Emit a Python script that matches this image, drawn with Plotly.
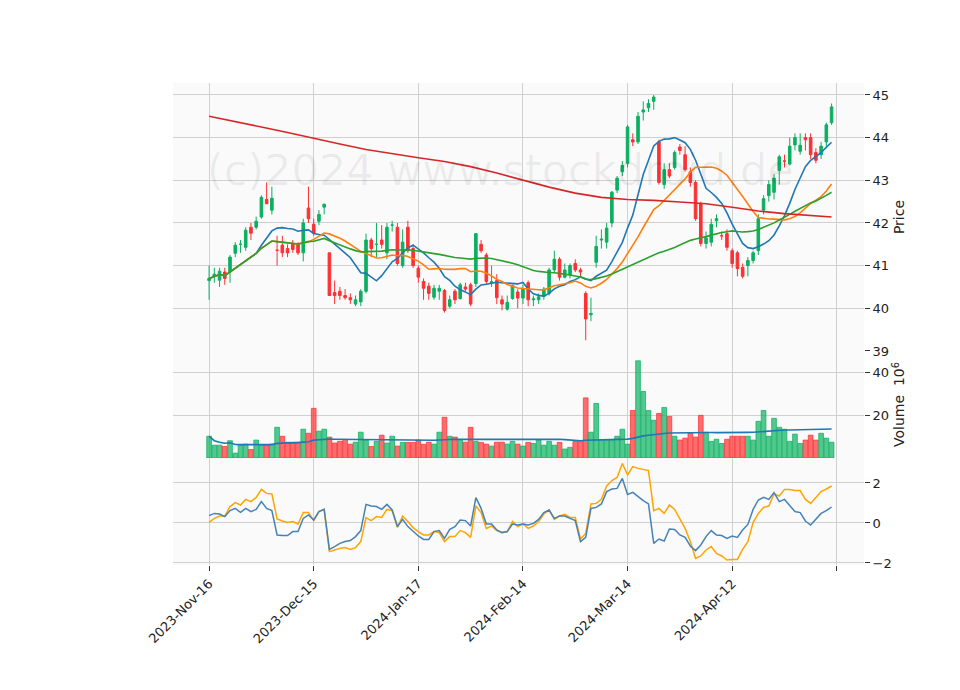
import plotly.graph_objects as go
import pandas as pd

open_ = [40.65,40.75,40.66,40.85,40.85,41.29,41.5,41.43,41.9,41.9,42.14,42.55,42.3,41.36,41.48,41.4,41.52,41.5,41.3,42.35,
         41.97,42.04,42.37,41.3,40.37,40.4,40.3,40.25,40.1,40.15,40.4,41.6,41.5,41.6,41.3,41.95,41.9,41.0,41.9,41.4,
         40.94,40.63,40.52,40.26,40.4,40.42,40.05,40.4,40.23,40.5,40.55,40.58,41.5,41.25,40.6,40.65,40.2,39.98,40.23,40.38,
         40.24,40.6,40.2,40.2,40.28,40.35,40.9,41.15,40.73,40.78,41.05,40.9,40.35,39.85,41.08,41.6,41.55,42.0,42.77,43.2,
         43.4,43.95,43.9,44.6,44.7,44.85,43.9,42.9,43.25,43.3,43.78,43.6,43.2,42.95,42.45,41.52,41.55,42.05,41.7,41.75,
         41.35,41.3,40.96,41.0,41.12,41.35,42.3,42.64,42.72,43.23,43.45,43.38,43.83,43.68,44.0,44.0,43.65,43.6,43.9,44.35]
close = [40.7,40.8,40.87,40.7,41.2,41.48,41.5,41.83,41.76,42.04,42.6,42.45,42.58,41.36,41.3,41.3,41.38,41.3,42.0,42.1,
         41.76,42.2,42.44,40.3,40.3,40.3,40.25,40.2,40.2,40.4,41.6,41.4,41.5,41.5,41.9,41.95,41.05,41.55,41.35,41.0,
         40.73,40.47,40.35,40.47,40.47,39.95,40.2,40.2,40.55,40.45,40.1,41.75,41.35,40.63,40.62,40.25,40.1,40.14,40.54,40.24,
         40.45,40.2,40.22,40.27,40.45,40.9,41.15,40.73,40.9,41.0,40.9,40.85,39.75,39.88,41.45,41.62,41.88,42.72,43.05,43.35,
         44.25,43.9,44.5,44.65,44.8,44.95,42.95,43.25,43.1,43.65,43.7,43.25,42.95,42.1,41.52,41.65,41.97,42.1,41.7,41.43,
         41.05,40.93,40.75,41.12,41.3,42.1,42.57,42.9,43.05,43.55,43.45,43.8,44.0,43.82,43.95,43.6,43.47,43.8,44.3,44.72]
high = [41.0,40.95,40.95,40.95,41.25,41.55,41.6,41.9,42.0,42.15,42.65,42.95,42.85,41.7,41.7,41.5,41.6,41.55,42.1,42.85,
        42.1,42.3,42.45,41.3,40.65,40.5,40.45,40.35,40.3,40.45,41.75,41.65,42.0,41.95,42.0,42.05,42.0,41.85,42.05,41.5,
        41.0,40.7,40.6,40.55,40.55,40.45,40.3,40.45,40.6,40.6,40.6,41.75,41.6,41.3,41.0,40.8,40.3,40.3,40.55,40.45,
        40.55,40.65,40.3,40.35,40.5,40.95,41.35,41.2,41.05,41.05,41.15,40.95,40.4,40.25,41.7,41.85,42.0,42.75,43.1,43.45,
        44.3,44.1,44.6,44.85,44.9,45.0,43.95,43.4,43.4,43.7,43.85,43.8,43.3,43.0,42.5,41.8,42.1,42.2,41.8,41.85,
        41.4,41.35,41.05,41.2,41.35,42.2,42.65,43.0,43.15,43.6,43.6,44.0,44.1,44.1,44.1,44.1,43.75,43.9,44.35,44.8]
low = [40.2,40.6,40.5,40.55,40.6,41.2,41.3,41.35,41.6,41.85,42.1,42.45,42.2,41.0,41.2,41.2,41.3,41.25,41.1,42.0,
       41.7,41.95,42.2,40.3,40.1,40.2,40.2,40.1,40.05,40.05,40.35,41.2,41.2,41.4,41.15,41.8,41.0,40.95,41.3,40.95,
       40.6,40.2,40.2,40.2,40.2,39.9,40.0,40.1,40.2,40.4,40.05,40.5,41.3,40.55,40.5,40.1,39.95,39.95,40.2,40.0,
       40.1,40.05,40.05,40.1,40.2,40.3,40.85,40.65,40.7,40.7,40.85,40.75,39.25,39.7,40.95,41.4,41.4,41.9,42.7,43.1,
       43.3,43.8,43.85,44.4,44.6,44.65,42.9,42.8,43.05,43.25,43.6,43.2,42.85,42.05,41.45,41.4,41.45,41.9,41.6,41.35,
       40.95,40.75,40.7,40.75,41.05,41.25,42.2,42.5,42.55,42.9,43.3,43.35,43.7,43.6,43.7,43.5,43.4,43.5,43.75,44.3]
volume = [10.2,6.0,6.0,5.4,8.1,2.3,6.0,6.5,4.0,8.4,6.0,6.0,6.5,14.4,10.2,7.4,7.4,7.0,13.5,11.6,
          23.3,12.6,13.5,9.8,7.0,7.8,8.7,6.5,7.4,12.1,8.4,5.4,7.8,10.7,7.0,10.2,5.6,7.3,7.3,7.3,
          8.4,6.4,7.4,6.5,12.1,19.1,10.2,9.8,8.7,7.4,14.4,7.8,7.3,6.5,5.6,7.4,7.4,6.5,7.8,6.5,
          5.6,7.3,6.8,8.4,6.0,7.8,6.0,7.3,4.2,5.0,7.8,7.8,28.2,12.1,25.6,8.4,8.4,8.4,10.2,13.5,
          6.5,22.3,45.6,31.2,22.3,17.7,20.9,23.7,19.5,10.2,8.4,9.3,11.6,9.8,20.0,12.1,7.8,8.8,6.8,8.8,
          10.2,10.2,10.2,10.2,8.4,17.2,22.3,10.2,18.6,14.4,13.5,7.8,11.2,6.8,8.4,10.7,8.4,11.6,9.3,7.4]
ind_blue = [0.37,0.48,0.45,0.32,0.62,0.73,0.53,0.73,0.57,0.68,1.07,0.73,0.62,-0.6,-0.63,-0.63,-0.43,-0.43,0.23,0.4,
            0.15,0.57,0.68,-1.32,-1.18,-1.02,-0.93,-0.88,-0.68,-0.38,0.93,0.85,0.82,0.68,0.93,0.65,-0.18,0.18,-0.18,-0.43,
            -0.65,-0.82,-0.82,-0.43,-0.38,-0.77,-0.32,-0.18,0.15,0.12,-0.15,1.27,0.73,-0.05,-0.05,-0.35,-0.48,-0.43,-0.05,-0.1,
            -0.05,-0.1,-0.02,0.18,0.52,0.65,0.23,0.35,0.35,0.23,0.12,-0.93,-0.72,0.73,0.78,0.95,1.57,1.7,1.73,2.23,
            1.43,1.53,1.32,1.12,0.95,-1.02,-0.8,-0.9,-0.3,-0.32,-0.6,-0.72,-1.15,-1.38,-1.1,-0.68,-0.38,-0.6,-0.63,-0.77,
            -0.65,-0.72,-0.35,-0.07,0.68,1.15,1.28,1.18,1.52,1.07,1.18,0.85,0.57,0.52,0.1,-0.1,0.18,0.48,0.62,0.8]
ind_orange = [0.03,0.23,0.35,0.35,0.82,1.02,0.9,1.18,1.07,1.28,1.68,1.48,1.45,0.2,0.1,0.03,0.07,-0.05,0.52,0.53,
              0.12,0.57,0.68,-1.43,-1.35,-1.27,-1.23,-1.32,-1.23,-0.93,0.27,0.12,0.32,0.28,0.68,0.62,-0.22,0.35,0.07,-0.23,
              -0.43,-0.6,-0.6,-0.43,-0.48,-0.93,-0.68,-0.68,-0.38,-0.48,-0.72,0.85,0.52,-0.27,-0.15,-0.38,-0.48,-0.43,0.07,-0.18,
              -0.05,-0.27,-0.15,0.07,0.45,0.65,0.18,0.35,0.43,0.28,0.28,-0.8,-0.52,0.95,0.98,1.18,1.85,2.12,2.28,2.98,
              2.4,2.82,2.73,2.68,2.62,0.62,0.73,0.48,0.9,0.68,0.18,-0.27,-0.93,-1.77,-1.65,-1.35,-1.18,-1.52,-1.65,-1.85,
              -1.82,-1.82,-1.32,-0.93,0.02,0.48,0.78,0.85,1.45,1.35,1.68,1.68,1.62,1.62,1.18,0.98,1.28,1.57,1.7,1.85]
sma200_x = [0,5,10,15,20,25,30,35,40,45,50,55,60,65,70,75,80,85,90,95,100,105,110,115,119]
sma200_y = [44.5,44.38,44.25,44.12,43.98,43.85,43.72,43.62,43.53,43.44,43.32,43.17,43.0,42.84,42.7,42.6,42.55,42.53,42.49,42.45,42.37,42.28,42.22,42.17,42.14]
tick_pos = [0, 20, 40, 60, 80, 100]
tick_text = ["2023-Nov-16", "2023-Dec-15", "2024-Jan-17", "2024-Feb-14", "2024-Mar-14", "2024-Apr-12"]

x = list(range(len(close)))
cs = pd.Series(close)
ma10 = cs.rolling(10, min_periods=1).mean()
ma20 = cs.rolling(20, min_periods=1).mean()
ma50 = cs.rolling(50, min_periods=1).mean()
vma = pd.Series(volume).rolling(50, min_periods=1).mean()

UP, DN = "#0ab060", "#fe3032"
fig = go.Figure()
fig.add_trace(go.Candlestick(x=x, open=open_, high=high, low=low, close=close,
    increasing=dict(line=dict(color=UP, width=1), fillcolor=UP),
    decreasing=dict(line=dict(color=DN, width=1), fillcolor=DN),
    whiskerwidth=0, xaxis="x", yaxis="y", showlegend=False))
for s, c in [(ma10, "#1f77b4"), (ma20, "#ff7f0e"), (ma50, "#2ca02c")]:
    fig.add_trace(go.Scatter(x=x, y=s, mode="lines", line=dict(color=c, width=1.6), xaxis="x", yaxis="y", showlegend=False))
fig.add_trace(go.Scatter(x=sma200_x, y=sma200_y, mode="lines", line=dict(color="#d62728", width=1.6), xaxis="x", yaxis="y", showlegend=False))

vcol = ["rgba(10,176,96,0.7)" if c >= o else "rgba(254,48,50,0.7)" for o, c in zip(open_, close)]
vline = ["rgba(10,176,96,0.9)" if c >= o else "rgba(254,48,50,0.9)" for o, c in zip(open_, close)]
fig.add_trace(go.Bar(x=x, y=volume, marker=dict(color=vcol, line=dict(color=vline, width=0.8)), width=0.9,
                     xaxis="x", yaxis="y2", showlegend=False))
fig.add_trace(go.Scatter(x=x, y=vma, mode="lines", line=dict(color="#1f77b4", width=1.6), xaxis="x", yaxis="y2", showlegend=False))

fig.add_trace(go.Scatter(x=x, y=ind_orange, mode="lines", line=dict(color="#ffa500", width=1.5), xaxis="x", yaxis="y3", showlegend=False))
fig.add_trace(go.Scatter(x=x, y=ind_blue, mode="lines", line=dict(color="#4682b4", width=1.5), xaxis="x", yaxis="y3", showlegend=False))

grid = "#d0d0d0"
yax = dict(side="right", showgrid=True, gridcolor=grid, zeroline=False, ticks="outside", ticklen=5,
           tickcolor="#333", tickfont=dict(size=13, color="#222"), showline=False, automargin=False)
fig.update_layout(
    width=960, height=690, paper_bgcolor="white", plot_bgcolor="#fafafa",
    margin=dict(l=165, r=104, t=75, b=133, autoexpand=False),
    font=dict(family="DejaVu Sans", color="#222"),
    xaxis=dict(range=[-6.9, 125.2], tickvals=tick_pos, ticktext=tick_text, tickangle=-45,
               showgrid=True, gridcolor=grid, zeroline=False, ticks="outside", ticklen=5, tickcolor="#333",
               tickfont=dict(size=13), rangeslider=dict(visible=False), anchor="y3", automargin=False,
               minor=dict(tick0=0, dtick=20, ticks="outside", ticklen=5, tickcolor="#333", showgrid=True, gridcolor=grid)),
    yaxis=dict(domain=[0.444, 1], range=[39, 45.28], tickvals=[39, 40, 41, 42, 43, 44, 45],
               title=dict(text="Price", font=dict(size=14), standoff=6), **yax),
    yaxis2=dict(domain=[0.222, 0.444], range=[0, 50.2], tickvals=[20, 40],
                title=dict(text="Volume  10<sup>6</sup>", font=dict(size=14), standoff=6), **yax),
    yaxis3=dict(domain=[0, 0.222], range=[-2.1, 3.25], tickvals=[-2, 0, 2], ticktext=["\u22122", "0", "2"], **yax),
    annotations=[dict(text="(c)2024 www.stockdroid.de", x=0.474, y=0.875, xref="paper", yref="paper",
                      showarrow=False, font=dict(size=43, color="rgba(0,0,0,0.06)"))],
    showlegend=False,
)
fig.write_html("out.html")
